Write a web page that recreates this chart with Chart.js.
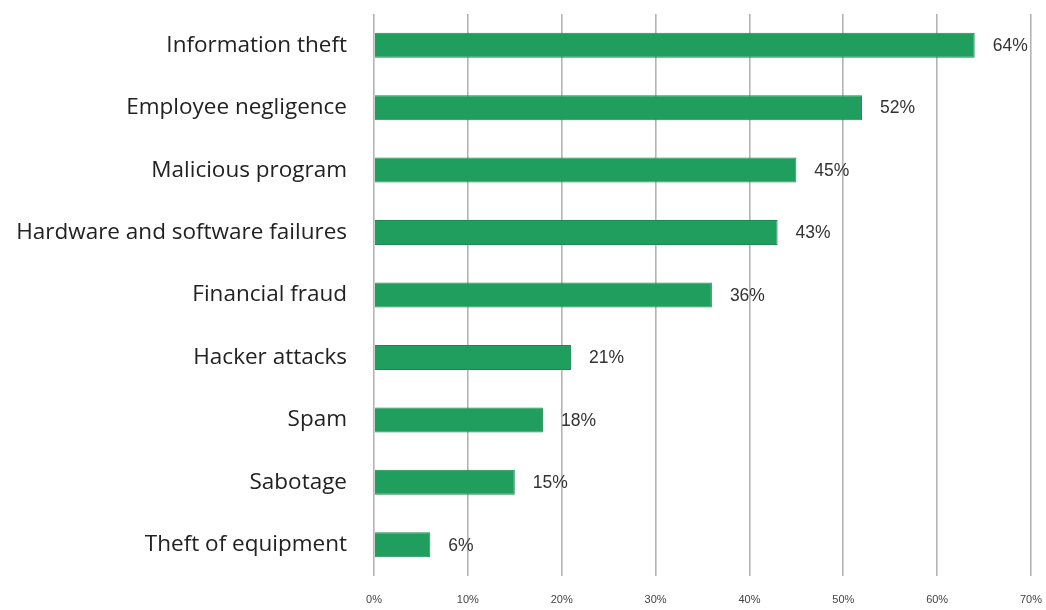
<!DOCTYPE html>
<html>
<head>
<meta charset="utf-8">
<script src="https://cdn.jsdelivr.net/npm/chart.js@4"></script>
<style>
  body { margin: 0; background: #fff; }
  #wrap { width: 1046px; height: 610px; }
</style>
</head>
<body>
<div id="wrap"><canvas id="chart"></canvas></div>
<script>
const categories = [
  "Information theft",
  "Employee negligence",
  "Malicious program",
  "Hardware and software failures",
  "Financial fraud",
  "Hacker attacks",
  "Spam",
  "Sabotage",
  "Theft of equipment",
];
const values = [64, 52, 45, 43, 36, 21, 18, 15, 6];
const xTicks = [0, 10, 20, 30, 40, 50, 60, 70];

// draws "64%" etc after each bar
const valueLabels = {
  id: "valueLabels",
  afterDatasetsDraw(chart) {
    const ctx = chart.ctx;
    const meta = chart.getDatasetMeta(0);
    ctx.save();
    ctx.font = "17.5px 'Liberation Sans', Arial, sans-serif";
    ctx.fillStyle = "#333";
    ctx.textBaseline = "middle";
    meta.data.forEach((bar, i) => {
      ctx.fillText(values[i] + "%", bar.x + 18, bar.y + 1);
    });
    ctx.restore();
  },
};

new Chart(document.getElementById("chart"), {
  type: "bar",
  data: {
    labels: categories,
    datasets: [
      {
        data: values,
        backgroundColor: "#1f9e5d",
        borderColor: "#1a8a51",
        borderWidth: 1,
        barPercentage: 0.4,
        categoryPercentage: 1,
      },
    ],
  },
  options: {
    indexAxis: "y",
    responsive: true,
    maintainAspectRatio: false,
    animation: false,
    layout: { padding: { top: 14, right: 15, bottom: 4, left: 0 } },
    plugins: { legend: { display: false }, tooltip: { enabled: false } },
    scales: {
      x: {
        min: 0,
        max: 70,
        afterBuildTicks: (scale) => {
          scale.ticks = xTicks.map((v) => ({ value: v }));
        },
        afterFit: (scale) => {
          scale.height = 30;
          scale.paddingRight = 12;
          scale.paddingLeft = 0;
        },
        grid: { color: "#b4b4b4", lineWidth: 1.6, drawTicks: false },
        border: { display: false },
        ticks: {
          padding: 17,
          color: "#444",
          font: { family: "'Liberation Sans', Arial, sans-serif", size: 11 },
          callback: (v) => v + "%",
        },
      },
      y: {
        afterFit: (scale) => {
          scale.width = 374;
          scale.paddingTop = 0;
          scale.paddingBottom = 0;
        },
        grid: { display: false, drawTicks: false },
        border: { display: false },
        ticks: {
          padding: 27,
          color: "#222",
          font: { family: "'Open Sans', sans-serif", size: 22.5 },
        },
      },
    },
  },
  plugins: [valueLabels],
});
</script>
</body>
</html>
